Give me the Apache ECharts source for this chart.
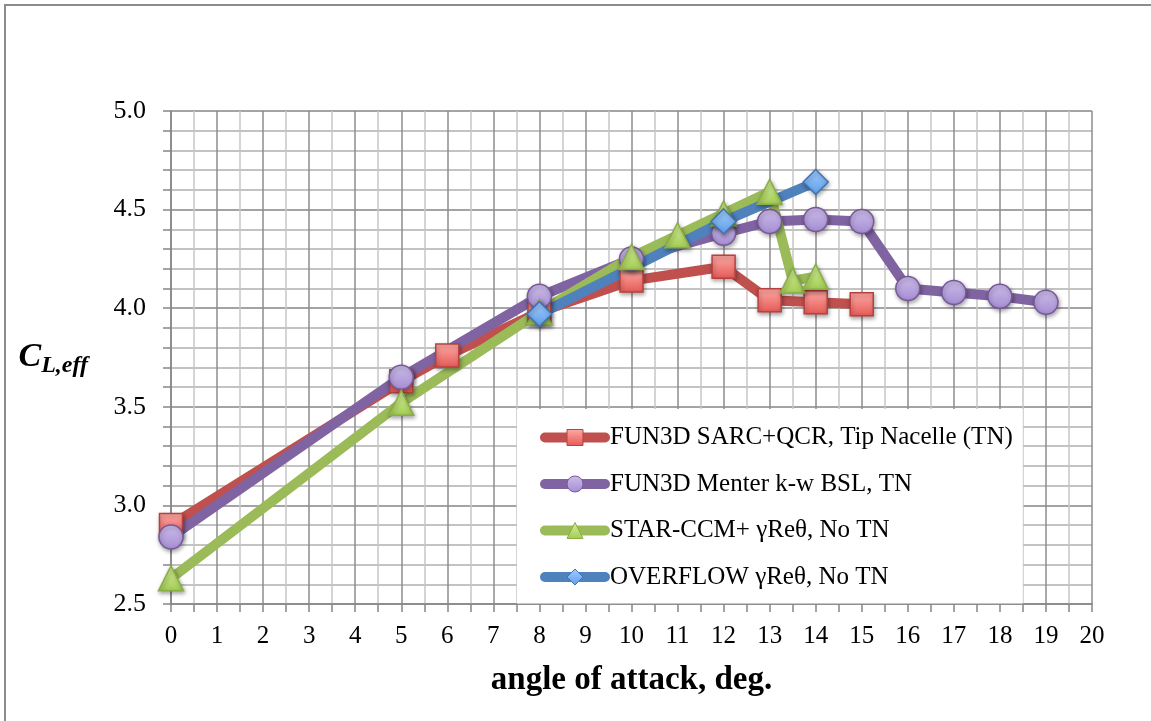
<!DOCTYPE html>
<html>
<head>
<meta charset="utf-8">
<script src="https://cdn.jsdelivr.net/npm/echarts@6/dist/echarts.min.js"></script>
<style>
html,body{margin:0;padding:0;background:#fff;}
#chart{width:1151px;height:721px;}
</style>
</head>
<body>
<div id="chart"></div>
<script>
// ---- data ----
const seriesNames = [
  'FUN3D SARC+QCR, Tip Nacelle (TN)',
  'FUN3D Menter k-w BSL, TN',
  'STAR-CCM+ \u03b3Re\u03b8, No TN',
  'OVERFLOW \u03b3Re\u03b8, No TN'
];
const sarcAlpha = [0, 5, 6, 8, 10, 12, 13, 14, 15];
const sarcCL    = [2.90, 3.63, 3.76, 3.98, 4.14, 4.21, 4.04, 4.03, 4.02];
const bslAlpha  = [0, 5, 8, 10, 12, 13, 14, 15, 16, 17, 18, 19];
const bslCL     = [2.84, 3.65, 4.06, 4.25, 4.38, 4.44, 4.45, 4.44, 4.10, 4.08, 4.06, 4.03];
const starAlpha = [0, 5, 8, 10, 11, 12, 13, 13.5, 14];
const starCL    = [2.63, 3.52, 3.98, 4.26, 4.37, 4.48, 4.59, 4.14, 4.16];
const ovfAlpha  = [8, 12, 14];
const ovfCL     = [3.97, 4.44, 4.64];
const xTicks = {min: 0, max: 20, interval: 1};
const yTicks = {min: 2.5, max: 5.0, interval: 0.5};

function pairs(xs, ys){ return xs.map((x,i)=>[x, ys[i]]); }
function grad(top, bottom){
  return new echarts.graphic.LinearGradient(0,0,0,1,[{offset:0,color:top},{offset:1,color:bottom}]);
}
const serif = '"Liberation Serif", "DejaVu Serif", serif';
const shadow = {shadowBlur:4, shadowColor:'rgba(0,0,0,0.35)', shadowOffsetX:1, shadowOffsetY:2};

function mkSeries(name, data, color, symbol, size, fillTop, fillBot, border){
  return {
    name: name, type:'line', data: data,
    symbol: symbol, symbolSize: size,
    lineStyle: {color: color, width: 10, cap:'round', join:'round'},
    itemStyle: Object.assign({color: grad(fillTop, fillBot), borderColor: border, borderWidth: 1.5}, shadow),
    emphasis: {disabled: true},
    animation: false
  };
}

const chart = echarts.init(document.getElementById('chart'), null, {renderer:'canvas'});
chart.setOption({
  backgroundColor: '#fff',
  animation: false,
  graphic: [{
    type:'rect', shape:{x:5, y:5, width:1300, height:900},
    style:{fill:'none', stroke:'#8c8c8c', lineWidth:2}, silent:true, z:-10
  }],
  grid: {left:171, right:59, top:111, bottom:117, containLabel:false},
  legend: {
    orient:'vertical', left:517, top:409,
    padding:[16, 10, 14, 23],
    backgroundColor:'#fff',
    itemWidth:60, itemHeight:20, itemGap:21.5,
    lineStyle:{width:10, cap:'round'},
    itemStyle:{shadowBlur:0, shadowOffsetX:0, shadowOffsetY:0, borderWidth:1},
    textStyle:{fontFamily:serif, fontSize:25, color:'#000', lineHeight:22},
    data: seriesNames
  },
  xAxis: {
    type:'value', min:xTicks.min, max:xTicks.max, interval:xTicks.interval,
    axisLine:{show:true, lineStyle:{color:'#868686', width:1.5}},
    axisTick:{show:true, length:8, lineStyle:{color:'#868686', width:1.5}},
    minorTick:{show:true, splitNumber:2, length:8, lineStyle:{color:'#868686', width:1.5}},
    splitLine:{show:true, lineStyle:{color:'#8c8c8c', width:1.5}},
    minorSplitLine:{show:true, lineStyle:{color:'#c6c6c6', width:1.5}},
    axisLabel:{fontFamily:serif, fontSize:25, color:'#000', margin:20},
    name:'angle of attack, deg.', nameLocation:'middle', nameGap:60,
    nameTextStyle:{fontFamily:serif, fontSize:33, fontWeight:'bold', color:'#000'}
  },
  yAxis: {
    type:'value', min:yTicks.min, max:yTicks.max, interval:yTicks.interval,
    axisLine:{show:true, lineStyle:{color:'#868686', width:1.5}},
    axisTick:{show:true, length:8, lineStyle:{color:'#868686', width:1.5}},
    minorTick:{show:true, splitNumber:5, length:8, lineStyle:{color:'#868686', width:1.5}},
    splitLine:{show:true, lineStyle:{color:'#868686', width:1.5}},
    minorSplitLine:{show:true, lineStyle:{color:'#b0b0b0', width:1.5}},
    axisLabel:{fontFamily:serif, fontSize:26, color:'#000', margin:25, formatter:(v)=>v.toFixed(1)},
    name:'{c|C}{s|L,eff}', nameLocation:'middle', nameRotate:0, nameGap:83,
    nameTextStyle:{
      align:'right', verticalAlign:'middle',
      rich:{
        c:{fontFamily:serif, fontSize:34, fontWeight:'bold', fontStyle:'italic', color:'#000'},
        s:{fontFamily:serif, fontSize:24, fontWeight:'bold', fontStyle:'italic', color:'#000', padding:[16,0,0,0]}
      }
    }
  },
  series: [
    mkSeries(seriesNames[0], pairs(sarcAlpha, sarcCL), '#c0504d', 'rect', 23, '#ffaaa6', '#e45a56', '#b9413d'),
    mkSeries(seriesNames[1], pairs(bslAlpha, bslCL), '#8064a2', 'circle', 24, '#cdbdea', '#a58dd2', '#77589a'),
    mkSeries(seriesNames[2], pairs(starAlpha, starCL), '#9bbb59', 'triangle', 25, '#d6f09c', '#a2cc52', '#8aae46'),
    mkSeries(seriesNames[3], pairs(ovfAlpha, ovfCL), '#4f81bd', 'diamond', 25, '#a2cdff', '#5e9de9', '#3e74b4')
  ]
});
</script>
</body>
</html>
